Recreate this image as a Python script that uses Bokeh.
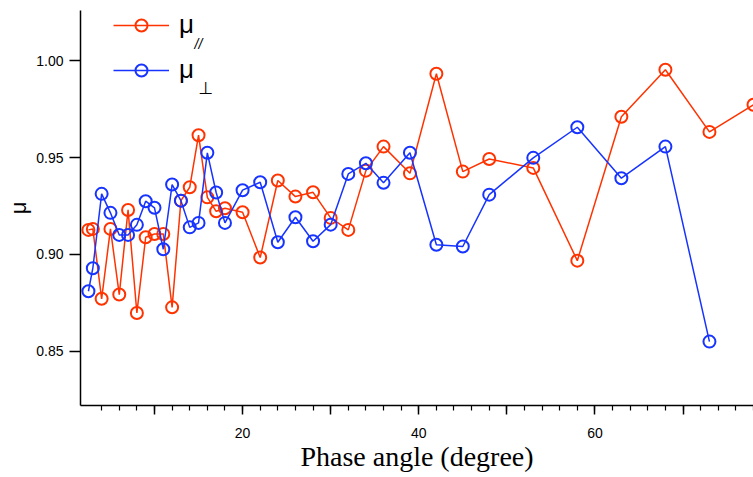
from bokeh.plotting import figure
from bokeh.models import Range1d, FixedTicker, Legend, LegendItem, NumeralTickFormatter, Label
from bokeh.embed import file_html
from bokeh.resources import INLINE

# Phase angle (degree)
x_par = [2.5, 3, 4, 5, 6, 7, 8, 9, 10, 11, 12, 13, 14, 15, 16, 17, 18, 20, 22, 24,
         26, 28, 30, 32, 34, 36, 39, 42, 45, 48, 53, 58, 63, 68, 73, 78]
mu_par = [0.9127, 0.9132, 0.8771, 0.9132, 0.8793, 0.9230, 0.8698, 0.9089, 0.9106, 0.9106,
          0.8727, 0.9278, 0.9347, 0.9616, 0.9295, 0.9223, 0.9239, 0.9218, 0.8984, 0.9382,
          0.9299, 0.9321, 0.9189, 0.9127, 0.9433, 0.9557, 0.9419, 0.9933, 0.9428, 0.9493,
          0.9447, 0.8968, 0.9711, 0.9954, 0.9633, 0.9773]

x_perp = [2.5, 3, 4, 5, 6, 7, 8, 9, 10, 11, 12, 13, 14, 15, 16, 17, 18, 20, 22, 24,
          26, 28, 30, 32, 34, 36, 39, 42, 45, 48, 53, 58, 63, 68, 73]
mu_perp = [0.8810, 0.8929, 0.9313, 0.9215, 0.9101, 0.9101, 0.9153, 0.9275, 0.9241, 0.9027,
           0.9361, 0.9278, 0.9140, 0.9163, 0.9525, 0.9320, 0.9163, 0.9332, 0.9373, 0.9063,
           0.9192, 0.9068, 0.9154, 0.9416, 0.9471, 0.9370, 0.9525, 0.9050, 0.9041, 0.9309,
           0.9499, 0.9657, 0.9394, 0.9557, 0.8550]

x_major = [10, 20, 30, 40, 50, 60, 70]
x_minor = list(range(4, 80, 2))
y_major = [0.85, 0.90, 0.95, 1.00]

RED = "#FF3300"
BLUE = "#1633FF"

W, H = 753, 477
p = figure(width=W, height=H, x_range=Range1d(1.6, 78.0), y_range=Range1d(0.822, 1.026),
           output_backend="svg", toolbar_location=None,
           min_border_left=80, min_border_right=0, min_border_top=10, min_border_bottom=72)
p.outline_line_color = None
p.xgrid.visible = False
p.ygrid.visible = False
p.background_fill_color = "white"

r_line = p.line(x_par, mu_par, line_color=RED, line_width=1.5)
r_pts = p.scatter(x_par, mu_par, marker="circle", size=12, line_color=RED, line_width=2,
                  fill_alpha=0)
b_line = p.line(x_perp, mu_perp, line_color=BLUE, line_width=1.5)
b_pts = p.scatter(x_perp, mu_perp, marker="circle", size=12, line_color=BLUE, line_width=2,
                  fill_alpha=0)

xa = p.xaxis[0]
xa.ticker = FixedTicker(ticks=x_major, minor_ticks=x_minor)
xa.major_label_overrides = {10: "", 30: "", 50: "", 70: ""}
xa.axis_line_width = 1.5
xa.axis_line_color = "black"
xa.major_tick_line_color = "black"
xa.minor_tick_line_color = "black"
xa.major_tick_line_width = 1.5
xa.minor_tick_line_width = 1.2
xa.major_tick_in = 0
xa.major_tick_out = 9
xa.minor_tick_in = 0
xa.minor_tick_out = 5
xa.major_label_standoff = 13
xa.major_label_text_font = "Liberation Sans"
xa.major_label_text_font_size = "14px"
xa.major_label_text_color = "black"
xa.axis_label = "Phase angle (degree)"
xa.axis_label_text_font = "Liberation Serif"
xa.axis_label_text_font_style = "normal"
xa.axis_label_text_font_size = "28px"
xa.axis_label_text_color = "black"
xa.axis_label_standoff = 0

ya = p.yaxis[0]
ya.ticker = FixedTicker(ticks=y_major, minor_ticks=[])
ya.formatter = NumeralTickFormatter(format="0.00")
ya.axis_line_width = 1.5
ya.axis_line_color = "black"
ya.major_tick_line_color = "black"
ya.major_tick_line_width = 1.5
ya.major_tick_in = 0
ya.major_tick_out = 11
ya.minor_tick_line_color = None
ya.major_label_standoff = 6
ya.major_label_text_font = "Liberation Sans"
ya.major_label_text_font_size = "14px"
ya.major_label_text_color = "black"
ya.axis_label = "μ"
ya.axis_label_text_font = "Liberation Sans"
ya.axis_label_text_font_style = "normal"
ya.axis_label_text_font_size = "22px"
ya.axis_label_text_color = "black"
ya.axis_label_standoff = 2

legend = Legend(items=[LegendItem(label="μ", renderers=[r_line, r_pts]),
                       LegendItem(label="μ", renderers=[b_line, b_pts])],
                location=(33, 320), border_line_color=None, background_fill_alpha=0,
                glyph_width=56, glyph_height=30, label_height=30, spacing=14, padding=0,
                margin=0, label_standoff=10, label_text_font="Liberation Sans",
                label_text_font_size="26px", label_text_color="black")
p.add_layout(legend)

# subscripts of the legend labels (screen units, relative to the plot frame)
p.add_layout(Label(x=114, y=362, x_units="screen", y_units="screen", text="//",
                   text_font="Liberation Sans", text_font_size="14px",
                   text_font_style="italic",
                   text_baseline="alphabetic", text_color="black"))
p.add_layout(Label(x=118, y=318, x_units="screen", y_units="screen", text="⊥",
                   text_font="DejaVu Sans", text_font_size="17px",
                   text_baseline="alphabetic", text_color="black"))

open("out.html", "w").write(file_html(p, INLINE))
